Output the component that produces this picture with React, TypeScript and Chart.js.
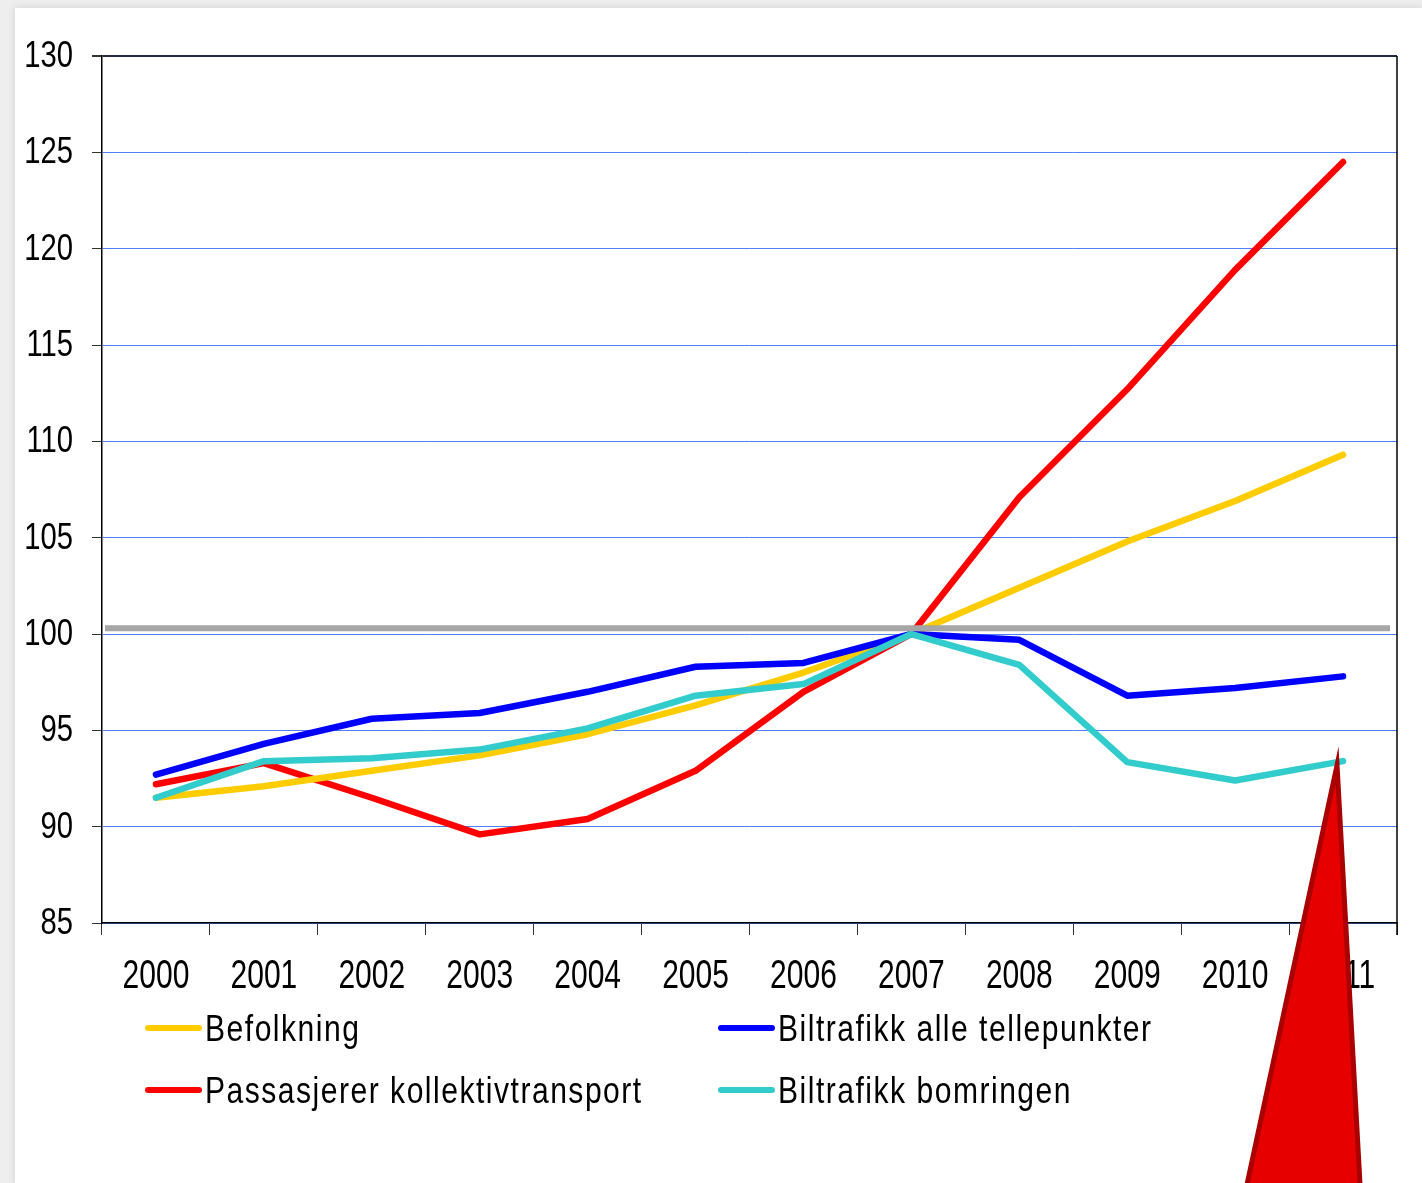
import React, { useEffect, useRef } from "react";
import { Chart, registerables } from "chart.js";

Chart.register(...registerables);

const YEARS = ["2000", "2001", "2002", "2003", "2004", "2005", "2006", "2007", "2008", "2009", "2010", "2011"];
const BEFOLKNING = [91.5, 92.1, 92.9, 93.7, 94.8, 96.3, 98.0, 100, 102.4, 104.8, 106.9, 109.3];
const BILTRAFIKK_ALLE = [92.7, 94.3, 95.6, 95.9, 97.0, 98.3, 98.5, 100, 99.7, 96.8, 97.2, 97.8];
const PASSASJERER = [92.2, 93.3, 91.5, 89.6, 90.4, 92.9, 97.0, 100, 107.1, 112.7, 118.9, 124.5];
const BOMRINGEN = [91.5, 93.4, 93.55, 94.0, 95.1, 96.8, 97.4, 100, 98.4, 93.35, 92.4, 93.4];
const SERIES_LABELS = ["Befolkning", "Biltrafikk alle tellepunkter", "Passasjerer kollektivtransport", "Biltrafikk bomringen"];
const SERIES_COLORS = ["#ffcc00", "#0000ff", "#ff0000", "#33cccc"];
const Y_MIN = 85;
const Y_MAX = 130;
const Y_STEP = 5;
const REFERENCE_VALUE = 100.3;

const FONT = '"Liberation Sans", Arial, sans-serif';

function drawScaledText(ctx: any, text: string, x: number, y: number, size: number, sx: number, align: string, spacing = 0) {
  ctx.save();
  ctx.translate(x, y);
  ctx.scale(sx, 1);
  ctx.font = `${size}px ${FONT}`;
  ctx.letterSpacing = `${spacing}px`;
  ctx.textAlign = align;
  ctx.textBaseline = "alphabetic";
  ctx.fillStyle = "#000";
  ctx.fillText(text, 0, 0);
  ctx.restore();
}

const decorPlugin = {
  id: "decor",
  afterDatasetsDraw(chart: any) {
    const { ctx, chartArea } = chart;
    const y = chart.scales.y.getPixelForValue(REFERENCE_VALUE);
    ctx.save();
    ctx.strokeStyle = "#a6a6a6";
    ctx.lineWidth = 6;
    ctx.beginPath();
    ctx.moveTo(chartArea.left + 3, y);
    ctx.lineTo(chartArea.right - 7, y);
    ctx.stroke();
    ctx.restore();
  },
  afterDraw(chart: any) {
    const { ctx, chartArea } = chart;
    const xs = chart.scales.x;
    const ys = chart.scales.y;
    ctx.save();
    // right border
    ctx.strokeStyle = "#000";
    ctx.lineWidth = 1.5;
    ctx.beginPath();
    ctx.moveTo(chartArea.right, chartArea.top);
    ctx.lineTo(chartArea.right, chartArea.bottom + 12);
    ctx.stroke();

    // y tick labels
    ys.ticks.forEach((t: any) => {
      const py = ys.getPixelForValue(t.value);
      drawScaledText(ctx, String(t.value), chartArea.left - 29, py + 11, 37, 0.79, "right");
    });
    // x tick labels
    (chart.data.labels as string[]).forEach((lab: string, i: number) => {
      const px = xs.getPixelForValue(i);
      drawScaledText(ctx, lab, px, chartArea.bottom + 65, 40, 0.75, "center");
    });

    // legend
    const positions = [
      { x: 130, yl: 1020, yb: 1033 },
      { x: 703, yl: 1020, yb: 1033 },
      { x: 130, yl: 1082, yb: 1095 },
      { x: 703, yl: 1082, yb: 1095 },
    ];
    chart.data.datasets.forEach((ds: any, i: number) => {
      const p = positions[i];
      ctx.strokeStyle = ds.borderColor;
      ctx.lineWidth = 6;
      ctx.lineCap = "round";
      ctx.beginPath();
      ctx.moveTo(p.x + 3, p.yl);
      ctx.lineTo(p.x + 54, p.yl);
      ctx.stroke();
      drawScaledText(ctx, ds.label, p.x + 60, p.yb, 36, 0.835, "left", 1.8);
    });

    // red callout triangle anchored to last bomringen point
    const ax = xs.getPixelForValue(YEARS.length - 1) - 6;
    const ay = ys.getPixelForValue(BOMRINGEN[BOMRINGEN.length - 1]) + 4;
    const h = chart.height + 20;
    ctx.fillStyle = "#e60000";
    ctx.strokeStyle = "#aa0000";
    ctx.lineWidth = 5;
    ctx.lineJoin = "miter";
    ctx.beginPath();
    ctx.moveTo(ax, ay);
    ctx.lineTo(ax - 94, h);
    ctx.lineTo(ax + 24, h);
    ctx.closePath();
    ctx.fill();
    ctx.stroke();
    ctx.restore();
  },
};

export default function App() {
  const ref = useRef<HTMLCanvasElement>(null);
  useEffect(() => {
    if (!ref.current) return;
    const data = [BEFOLKNING, BILTRAFIKK_ALLE, PASSASJERER, BOMRINGEN];
    const orders = [3, 2, 4, 1];
    const chart = new Chart(ref.current, {
      type: "line",
      data: {
        labels: YEARS,
        datasets: data.map((d, i) => ({
          label: SERIES_LABELS[i],
          data: d,
          borderColor: SERIES_COLORS[i],
          backgroundColor: SERIES_COLORS[i],
          borderWidth: 6.5,
          pointRadius: 0,
          tension: 0,
          borderCapStyle: "round",
          borderJoinStyle: "round",
          order: orders[i],
        })),
      },
      options: {
        animation: false,
        responsive: false,
        layout: { padding: { left: 0, top: 48, right: 25, bottom: 0 } },
        plugins: { legend: { display: false }, tooltip: { enabled: false } },
        scales: {
          x: {
            offset: true,
            grid: {
              offset: true,
              drawOnChartArea: false,
              tickLength: 12,
              tickColor: "#333",
              tickWidth: 1,
            },
            border: { color: "#000", width: 1.5 },
            ticks: { display: false },
            afterFit: (s: any) => { s.height = 260; },
          },
          y: {
            min: Y_MIN,
            max: Y_MAX,
            grid: {
              color: (c: any) => (c.tick && c.tick.value === Y_MAX ? "#1f2a44" : "#4d7fff"),
              lineWidth: (c: any) => (c.tick && c.tick.value === Y_MAX ? 2 : 1),
              tickLength: 10,
              tickColor: "#333",
            },
            border: { color: "#000", width: 1.5 },
            ticks: { stepSize: Y_STEP, display: false },
            afterFit: (s: any) => { s.width = 87; },
          },
        },
      },
      plugins: [decorPlugin],
    });
    return () => chart.destroy();
  }, []);
  return (
    <div style={{ position: "fixed", inset: 0, background: "#eeeeee", overflow: "hidden" }}>
      <div
        style={{
          position: "absolute",
          left: 15,
          top: 8,
          width: 1407,
          height: 1175,
          background: "#fff",
          boxShadow: "0 0 8px rgba(0,0,0,0.12)",
        }}
      >
        <canvas ref={ref} width={1407} height={1175} style={{ display: "block" }} />
      </div>
    </div>
  );
}
